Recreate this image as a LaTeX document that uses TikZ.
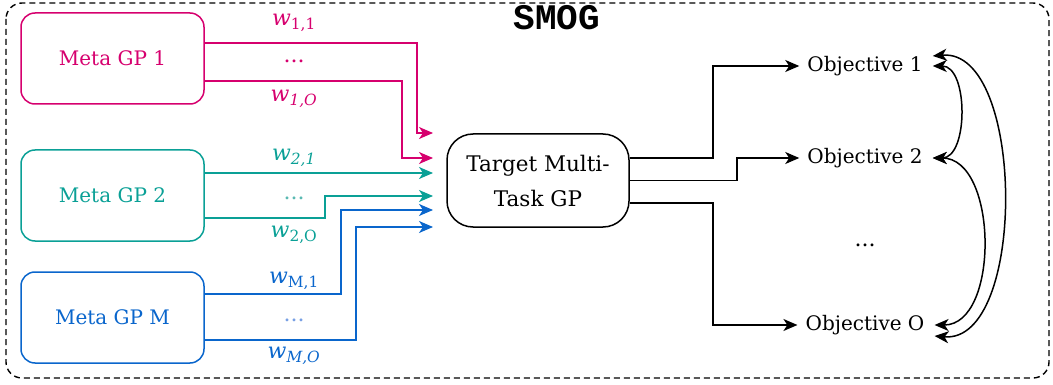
\documentclass[tikz,border=0pt]{standalone}
\usepackage{fontspec}
\setmainfont{DejaVu Serif}
\newfontfamily\titlefont{Liberation Mono}
\usetikzlibrary{arrows.meta}
\definecolor{cmag}{RGB}{214,0,110}
\definecolor{cteal}{RGB}{10,160,150}
\definecolor{cblue}{RGB}{10,102,204}
\definecolor{lteal}{RGB}{90,185,178}
\definecolor{lblue}{RGB}{120,160,228}
\tikzset{
  metabox/.style={draw, rounded corners=14pt, line width=1.5pt, minimum width=183pt, minimum height=91pt, font=\fontsize{20}{24}\selectfont},
  tgbox/.style={draw, rounded corners=26pt, line width=1.5pt, minimum width=182pt, minimum height=93pt, align=center, font=\fontsize{21.5}{35}\selectfont},
  objnode/.style={inner xsep=8pt, font=\fontsize{20}{24}\selectfont},
  lbl/.style={font=\fontsize{22}{26}\selectfont},
  arr/.style={line width=1.5pt, -{Stealth[length=14pt,width=12pt,inset=4pt]}},
  darr/.style={line width=1.5pt, {Stealth[length=14pt,width=12pt,inset=4pt]}-{Stealth[length=14pt,width=12pt,inset=4pt]}},
}
\begin{document}
\begin{tikzpicture}[x=1pt,y=-1pt]
\useasboundingbox (0,0) rectangle (1053,385);
\draw[dashed, dash pattern=on 6pt off 4pt, line width=1.4pt, rounded corners=16pt] (6,3) rectangle (1049,378);
\node[font=\titlefont\bfseries\fontsize{36}{40}\selectfont] (title) at (557,18) {SMOG};

\node[metabox, draw=cmag, text=cmag] (m1) at (112.5,58.5) {Meta GP 1};
\node[metabox, draw=cteal, text=cteal] (m2) at (112.5,195.5) {Meta GP 2};
\node[metabox, draw=cblue, text=cblue] (mM) at (112.5,317.5) {Meta GP M};
\node[tgbox] (tg) at (538,180.5) {Target Multi-\\Task GP};

\coordinate (i1) at (433,133);
\coordinate (i2) at (433,158);
\coordinate (i3) at (433,173);
\coordinate (i4) at (433,196);
\coordinate (i5) at (433,210);
\coordinate (i6) at (433,227);

\draw[arr, draw=cmag] ([yshift=15.5pt]m1.east) -| (417,133) -- (i1);
\draw[arr, draw=cmag] ([yshift=-22.5pt]m1.east) -| (402,158) -- (i2);
\draw[arr, draw=cteal] ([yshift=22.5pt]m2.east) -- (i3);
\draw[arr, draw=cteal] ([yshift=-22.5pt]m2.east) -| (325,196) -- (i4);
\draw[arr, draw=cblue] ([yshift=23.5pt]mM.east) -| (341,210) -- (i5);
\draw[arr, draw=cblue] ([yshift=-22.5pt]mM.east) -| (356,227) -- (i6);

\node[lbl, text=cmag] (l11) at (294,23) {\textit{w}\textsubscript{1,1}};
\node[lbl, text=cmag] (d1) at (294,61) {...};
\node[lbl, text=cmag] (l1o) at (294,99) {\textit{w}\textsubscript{\textit{1,O}}};
\node[lbl, text=cteal] (l21) at (294,158) {\textit{w}\textsubscript{\textit{2,1}}};
\node[lbl, text=lteal] (d2) at (294,198) {...};
\node[lbl, text=cteal] (l2o) at (294,235) {\textit{w}\textsubscript{2,O}};
\node[lbl, text=cblue] (lm1) at (294,281) {\textit{w}\textsubscript{M,1}};
\node[lbl, text=lblue] (d3) at (294,320) {...};
\node[lbl, text=cblue] (lmo) at (294,356) {\textit{w}\textsubscript{\textit{M,O}}};

\node[objnode] (o1) at (865,66) {Objective 1};
\node[objnode] (o2) at (865,158) {Objective 2};
\node[lbl] (od) at (865,245) {...};
\node[objnode] (oO) at (865,325) {Objective O};

\draw[arr] ([yshift=22.5pt]tg.east) -| (713,66) -- (o1.west);
\draw[arr] (tg.east) -| (737,158) -- (o2.west);
\draw[arr] ([yshift=-22.5pt]tg.east) -| (713,325) -- (oO.west);

\draw[darr] ([xshift=2pt]o1.east) to[out=0,in=0,looseness=1] ([xshift=2pt]o2.east);
\draw[darr] ([xshift=2pt]o2.east) to[out=0,in=0,looseness=1] ([xshift=2pt]oO.east);
\draw[darr] ([xshift=2pt,yshift=10pt]o1.east) to[out=5,in=-5,looseness=0.85] ([xshift=2pt,yshift=-11pt]oO.east);
\end{tikzpicture}
\end{document}
